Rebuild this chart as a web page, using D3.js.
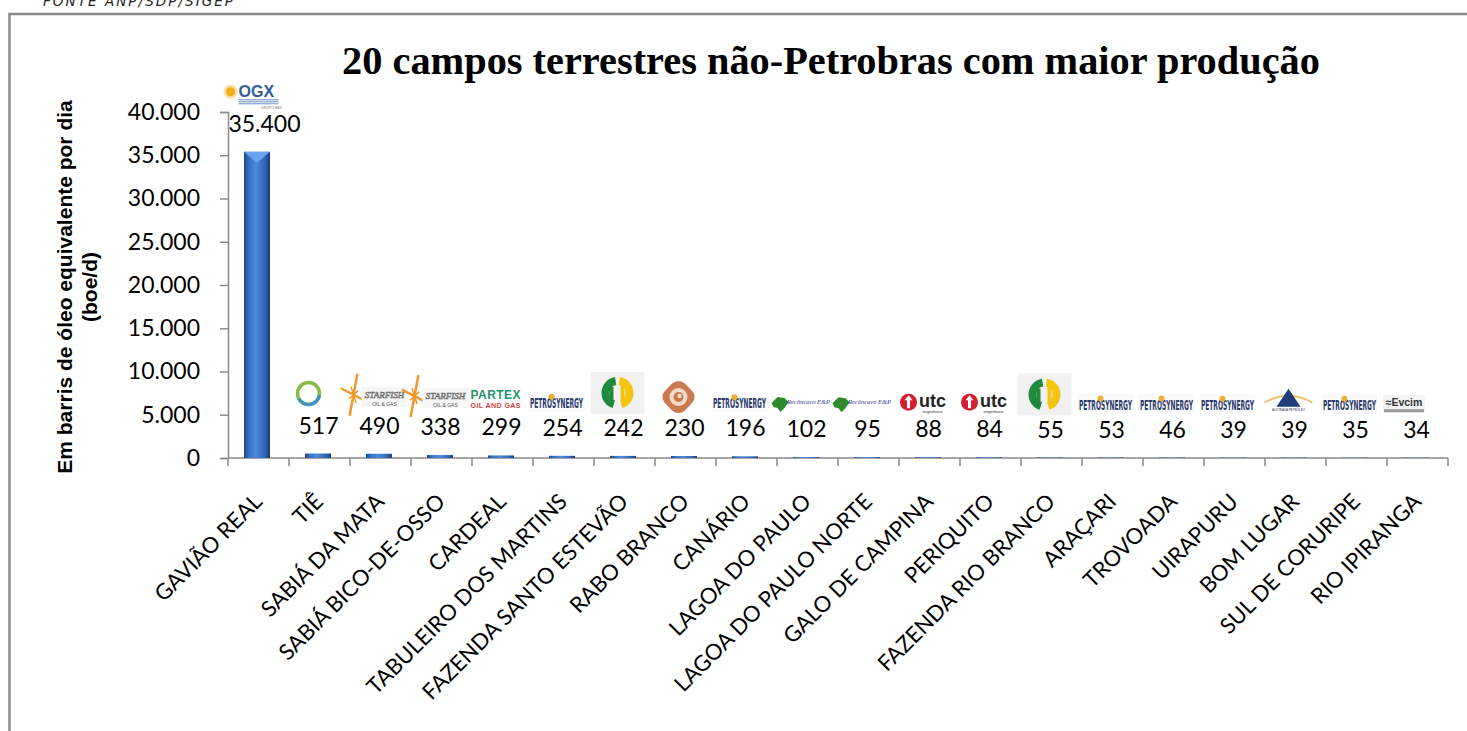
<!DOCTYPE html>
<html>
<head>
<meta charset="utf-8">
<script src="https://cdn.jsdelivr.net/npm/d3@7"></script>
<style>
  body { margin: 0; background: #fff; }
  svg { display: block; }
</style>
</head>
<body>
<svg id="chart"></svg>
<script>
const campos = ["GAVIÃO REAL", "TIÊ", "SABIÁ DA MATA", "SABIÁ BICO-DE-OSSO", "CARDEAL",
  "TABULEIRO DOS MARTINS", "FAZENDA SANTO ESTEVÃO", "RABO BRANCO", "CANÁRIO", "LAGOA DO PAULO",
  "LAGOA DO PAULO NORTE", "GALO DE CAMPINA", "PERIQUITO", "FAZENDA RIO BRANCO", "ARAÇARI",
  "TROVOADA", "UIRAPURU", "BOM LUGAR", "SUL DE CORURIPE", "RIO IPIRANGA"];
const producao = [35400, 517, 490, 338, 299, 254, 242, 230, 196, 102, 95, 88, 84, 55, 53, 46, 39, 39, 35, 34];
const operadoras = ["ogx", "tie", "starfish", "starfish", "partex", "petrosynergy", "nord", "rabo",
  "petrosynergy", "reconcavo", "reconcavo", "utc", "utc", "nord", "petrosynergy", "petrosynergy",
  "petrosynergy", "bomlugar", "petrosynergy", "egesa"];
const yTicks = [0, 5000, 10000, 15000, 20000, 25000, 30000, 35000, 40000];

const titulo = "20 campos terrestres não-Petrobras com maior produção";
const eixoY = ["Em barris de óleo equivalente por dia", "(boe/d)"];
const fonte = "FONTE ANP/SDP/SIGEP";

const width = 1467;
const height = 731;
const sans = "Lato, 'Open Sans', sans-serif";

const br = d3.formatLocale({decimal: ",", thousands: ".", grouping: [3], currency: ["R$", ""]});
const fmt = br.format(",");

const svg = d3.select("#chart")
    .attr("width", width)
    .attr("height", height);

// gradient for the bars
const defs = svg.append("defs");
const grad = defs.append("linearGradient").attr("id", "barGrad")
    .attr("x1", 0).attr("x2", 1).attr("y1", 0).attr("y2", 0);
[[0, "#1c4688"], [0.18, "#3870c4"], [0.45, "#4b89dd"], [0.8, "#3166b8"], [1, "#1a3d7a"]]
  .forEach(s => grad.append("stop").attr("offset", s[0]).attr("stop-color", s[1]));

// frame
svg.append("rect")
    .attr("x", 9.5).attr("y", 14)
    .attr("width", 1500).attr("height", 800)
    .attr("fill", "none")
    .attr("stroke", "#8a8a8a")
    .attr("stroke-width", 2.5);

svg.append("text")
    .attr("x", 43).attr("y", 6)
    .attr("font-family", "'DejaVu Sans', sans-serif")
    .attr("font-style", "italic")
    .attr("font-size", 13.5)
    .attr("textLength", 190)
    .attr("fill", "#222")
    .text(fonte);

// title, fitted to the reference width
const title = svg.append("text")
    .attr("x", 831).attr("y", 74)
    .attr("text-anchor", "middle")
    .attr("font-family", "'Liberation Serif', serif")
    .attr("font-weight", "bold")
    .attr("font-size", 37)
    .text(titulo);
const tw = title.node().getComputedTextLength();
title.attr("font-size", 37 * 978 / tw);

const x = d3.scaleBand()
    .domain(campos)
    .range([228, 1448])
    .padding(0);

const y = d3.scaleLinear()
    .domain([0, 40000])
    .range([458, 112]);

const axisColor = "#8a8a8a";

// y axis
const yAxis = svg.append("g")
    .attr("transform", "translate(228,0)")
    .call(d3.axisLeft(y).tickValues(yTicks).tickSize(8).tickPadding(20).tickFormat(fmt));
yAxis.select(".domain").attr("stroke", axisColor).attr("stroke-width", 1.5);
yAxis.selectAll(".tick line").attr("stroke", axisColor).attr("stroke-width", 1.5);
yAxis.selectAll(".tick text")
    .attr("font-family", sans)
    .attr("font-size", 23)
    .attr("fill", "#000");

// y axis title
const yt = svg.append("text")
    .attr("transform", "translate(72,287) rotate(-90)")
    .attr("text-anchor", "middle")
    .attr("font-family", "'Liberation Sans', Arial, sans-serif")
    .attr("font-weight", "bold")
    .attr("font-size", 21)
    .attr("fill", "#000");
yt.append("tspan").attr("x", 0).attr("dy", 0).text(eixoY[0]);
yt.append("tspan").attr("x", 0).attr("dy", 25).text(eixoY[1]);

// x axis line + ticks on band edges
const x0 = x.range()[0], x1 = x.range()[1];
svg.append("line")
    .attr("x1", x0).attr("x2", x1)
    .attr("y1", y(0)).attr("y2", y(0))
    .attr("stroke", axisColor).attr("stroke-width", 1.5);
const edges = campos.map(d => x(d)).concat([x1]);
svg.append("g").selectAll("line")
    .data(edges)
  .enter().append("line")
    .attr("x1", d => d).attr("x2", d => d)
    .attr("y1", y(0)).attr("y2", y(0) + 8)
    .attr("stroke", axisColor).attr("stroke-width", 1.5);

// category labels
svg.append("g").selectAll("text")
    .data(campos)
  .enter().append("text")
    .attr("transform", d => `translate(${x(d) + x.bandwidth() / 2 + 5},${y(0) + 45}) rotate(-45)`)
    .attr("text-anchor", "end")
    .attr("font-family", sans)
    .attr("font-size", 22)
    .attr("fill", "#000")
    .text(d => d);

// bars
const barW = 26;
const data = campos.map((c, i) => ({campo: c, valor: producao[i], op: operadoras[i]}));
const cx = d => x(d.campo) + x.bandwidth() / 2 - 1.5;

const bars = svg.append("g").selectAll("g")
    .data(data)
  .enter().append("g");

bars.append("rect")
    .attr("x", d => cx(d) - barW / 2)
    .attr("y", d => y(d.valor))
    .attr("width", barW)
    .attr("height", d => y(0) - y(d.valor))
    .attr("fill", "url(#barGrad)");

bars.filter(d => y(0) - y(d.valor) > 30)
  .append("path")
    .attr("d", d => {
      const t = y(d.valor), l = cx(d) - barW / 2, r = cx(d) + barW / 2;
      return `M${l},${t}L${r},${t}L${cx(d)},${t + 11}Z`;
    })
    .attr("fill", "#6aa4ee");

// value labels
const labelY = d => y(d.valor) - 20;
svg.append("g").selectAll("text")
    .data(data)
  .enter().append("text")
    .attr("x", d => x(d.campo) + x.bandwidth() / 2 + (d.valor > 10000 ? 6 : -1))
    .attr("y", labelY)
    .attr("text-anchor", "middle")
    .attr("font-family", sans)
    .attr("font-size", 23)
    .attr("fill", "#000")
    .text(d => fmt(d.valor));

// operator logos (simplified drawings)
function drawLogo(g, kind) {
  const txt = (s, o, parent) => {
    const t = (parent || g).append("text").text(s);
    Object.keys(o).forEach(k => t.attr(k, o[k]));
    return t;
  };
  if (kind === "ogx") {
    g.append("circle").attr("cx", -21).attr("cy", -3).attr("r", 7).attr("fill", "#fbe2a0");
    g.append("circle").attr("cx", -21).attr("cy", -3).attr("r", 4.5).attr("fill", "#f0ad1c");
    txt("OGX", {x: -13, y: 2, "font-family": "'Liberation Sans', sans-serif", "font-weight": "bold", "font-size": 16, fill: "#2f5d9a"});
    for (let i = 0; i < 3; i++) {
      g.append("line").attr("x1", -13).attr("x2", 27).attr("y1", 5 + i * 2).attr("y2", 5 + i * 2)
        .attr("stroke", "#6a8fc2").attr("stroke-width", 1);
    }
    txt("GRUPO EBX", {x: 20, y: 14, "font-size": 3.5, "font-family": "sans-serif", fill: "#777", "text-anchor": "middle"});
  } else if (kind === "tie") {
    g.append("circle").attr("cx", -4).attr("cy", -7).attr("r", 11)
      .attr("fill", "none").attr("stroke", "#86bb4a").attr("stroke-width", 3.5);
    g.append("path").attr("d", d3.arc()({innerRadius: 9.3, outerRadius: 12.7, startAngle: Math.PI * 0.55, endAngle: Math.PI * 1.35}))
      .attr("transform", "translate(-4,-7)").attr("fill", "#3b93c9");
  } else if (kind === "starfish") {
    const sg = g.append("g").attr("transform", "translate(-20,-6)");
    for (let i = 0; i < 8; i++) {
      const a = i * Math.PI / 4 + 0.3, len = i % 2 ? 9 : 22;
      sg.append("line").attr("x1", 0).attr("y1", 0)
        .attr("x2", Math.cos(a) * len * 0.6).attr("y2", Math.sin(a) * len)
        .attr("stroke", "#f0982e").attr("stroke-width", i % 2 ? 1.5 : 2.5);
    }
    g.append("rect").attr("x", -12).attr("y", -14).attr("width", 46).attr("height", 20).attr("fill", "#f6f6f6");
    txt("STARFISH", {x: 11, y: -3, "text-anchor": "middle", "font-family": "'Liberation Serif', serif", "font-style": "italic", "font-size": 9, fill: "#fff", stroke: "#666", "stroke-width": 0.6});
    txt("OIL & GAS", {x: 11, y: 5, "text-anchor": "middle", "font-family": "sans-serif", "font-size": 5, fill: "#555"});
  } else if (kind === "partex") {
    txt("PARTEX", {x: 0, y: -3, "text-anchor": "middle", "font-family": "'Liberation Sans', sans-serif", "font-weight": "bold", "font-size": 12, fill: "#23936a", textLength: 50});
    txt("OIL AND GAS", {x: 0, y: 6, "text-anchor": "middle", "font-family": "'Liberation Sans', sans-serif", "font-weight": "bold", "font-size": 7, fill: "#d23a3f", textLength: 50});
  } else if (kind === "petrosynergy") {
    g.append("rect").attr("x", -28).attr("y", -11).attr("width", 56).attr("height", 20).attr("fill", "#fafafa");
    const tg = g.append("g").attr("transform", "translate(0,5) scale(1,2.2)");
    txt("PETROSYNERGY", {x: 0, y: 0, "text-anchor": "middle", "font-family": "'DejaVu Sans Condensed', 'Liberation Sans Narrow', sans-serif", "font-weight": "bold", "font-size": 6.6, fill: "#2c3a6e"}, tg);
    g.append("circle").attr("cx", -5).attr("cy", -6).attr("r", 3).attr("fill", "#e8b23a");
  } else if (kind === "nord") {
    g.append("rect").attr("x", -27).attr("y", -31).attr("width", 54).attr("height", 42).attr("fill", "#f1f1f1");
    g.append("path").attr("d", d3.arc()({innerRadius: 8, outerRadius: 16, startAngle: Math.PI * 1.1, endAngle: Math.PI * 1.95}))
      .attr("transform", "translate(0,-10)").attr("fill", "#1f8a3c");
    g.append("path").attr("d", d3.arc()({innerRadius: 8, outerRadius: 16, startAngle: Math.PI * 0.05, endAngle: Math.PI * 0.9}))
      .attr("transform", "translate(0,-10)").attr("fill", "#f2c511");
    g.append("rect").attr("x", -8).attr("y", -16).attr("width", 4).attr("height", 15).attr("fill", "#1f8a3c");
    g.append("rect").attr("x", 3).attr("y", -18).attr("width", 4).attr("height", 15).attr("fill", "#f2c511");
  } else if (kind === "rabo") {
    g.append("rect").attr("x", -14).attr("y", -20).attr("width", 28).attr("height", 28).attr("rx", 9)
      .attr("transform", "rotate(45,0,-6)").attr("fill", "#c97a4e");
    g.append("circle").attr("cx", 0).attr("cy", -6).attr("r", 9).attr("fill", "#f4dbc9");
    g.append("circle").attr("cx", 0).attr("cy", -6).attr("r", 5).attr("fill", "#c97a4e");
    g.append("circle").attr("cx", 1).attr("cy", -7).attr("r", 2.2).attr("fill", "#f4dbc9");
  } else if (kind === "reconcavo") {
    g.append("path").attr("d", "M-29,-1 L-23,-7 L-16,-6 L-12,-2 L-16,4 L-20,8 L-23,4 L-27,3 Z").attr("fill", "#2f8a2a");
    txt("Recôncavo E&P", {x: 8, y: 0, "text-anchor": "middle", "font-family": "'Liberation Serif', serif", "font-style": "italic", "font-size": 6.5, fill: "#3a3f8a"});
  } else if (kind === "utc") {
    g.append("circle").attr("cx", -14).attr("cy", -2).attr("r", 8.5).attr("fill", "#d31f30");
    g.append("path").attr("d", "M-14,-9 L-10,-4 L-12.5,-4 L-12.5,4 L-15.5,4 L-15.5,-4 L-18,-4 Z").attr("fill", "#fff");
    txt("utc", {x: 10, y: 3, "text-anchor": "middle", "font-family": "'Liberation Sans', sans-serif", "font-weight": "bold", "font-size": 18, fill: "#222"});
    txt("engenharia", {x: 10, y: 9, "text-anchor": "middle", "font-family": "sans-serif", "font-size": 4, fill: "#333"});
  } else if (kind === "bomlugar") {
    g.append("path").attr("d", "M-24,-2 Q0,-16 24,-2").attr("fill", "none").attr("stroke", "#e8c46a").attr("stroke-width", 2);
    g.append("path").attr("d", "M0,-16 L12,2 L-12,2 Z").attr("fill", "#1f3d78");
    txt("ALVORADA PETRÓLEO", {x: 0, y: 6, "text-anchor": "middle", "font-family": "sans-serif", "font-size": 3, fill: "#335"});
  } else if (kind === "egesa") {
    g.append("rect").attr("x", 0).attr("y", -10).attr("width", 42).attr("height", 18).attr("fill", "#f3f3f3");
    txt("≈Evcim", {x: 21, y: 1, "text-anchor": "middle", "font-family": "'Liberation Sans', sans-serif", "font-weight": "bold", "font-size": 10.5, fill: "#333"});
    g.append("rect").attr("x", 1).attr("y", 4.5).attr("width", 40).attr("height", 3).attr("fill", "#9a9a9a");
  }
}

const logos = svg.append("g").selectAll("g")
    .data(data)
  .enter().append("g")
    .attr("transform", d => {
      const lx = d.op === "egesa" ? x(d.campo) - 4 : x(d.campo) + x.bandwidth() / 2 - 7;
      return `translate(${lx},${labelY(d) - (d.op === "ogx" ? 37 : 33)})`;
    });
logos.each(function(d) { drawLogo(d3.select(this), d.op); });
</script>
</body>
</html>
